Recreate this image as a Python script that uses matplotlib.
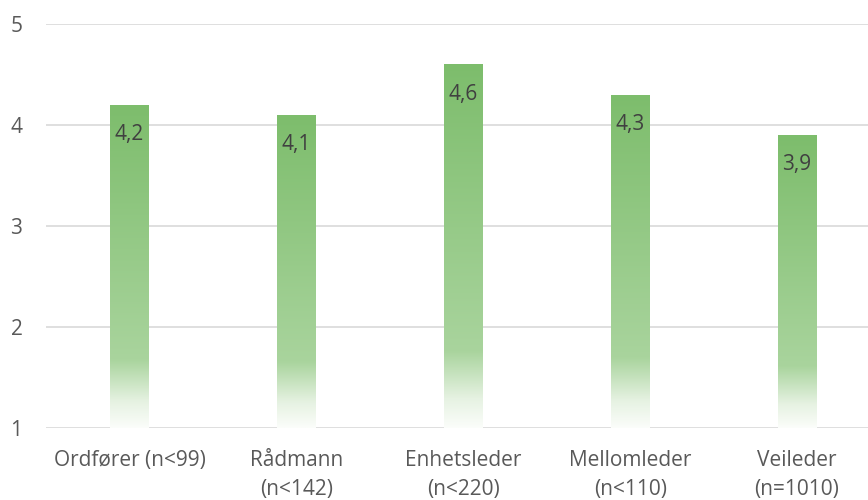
import numpy as np
import matplotlib.pyplot as plt
from matplotlib.colors import LinearSegmentedColormap

categories = ["Ordfører (n<99)", "Rådmann\n(n<142)", "Enhetsleder\n(n<220)",
              "Mellomleder\n(n<110)", "Veileder\n(n=1010)"]
values = [4.2, 4.1, 4.6, 4.3, 3.9]
value_labels = ["4,2", "4,1", "4,6", "4,3", "3,9"]
y_ticks = [1, 2, 3, 4, 5]

plt.rcParams["font.family"] = ["Open Sans", "DejaVu Sans"]

# gradient: white at the bottom, light green from ~20 %, darker green at the top
cmap = LinearSegmentedColormap.from_list(
    "bar_fade",
    [(0.0, "#fbfdfa"), (0.08, "#e6f2e2"), (0.21, "#a9d49d"), (1.0, "#7dbd6c")],
)

fig = plt.figure(figsize=(8.68, 5.0), dpi=100)
ax = fig.add_axes([46 / 868, 1 - 428 / 500, 1 - 46 / 868, (428 - 24) / 500])

x = np.arange(len(categories))
width = 0.228
ymin, ymax = 1, 5
bars = ax.bar(x, values, width=width, color="none", edgecolor="none", zorder=2)

grad = np.linspace(0, 1, 256).reshape(-1, 1)
for bar, val, lab in zip(bars, values, value_labels):
    x0 = bar.get_x()
    im = ax.imshow(grad, cmap=cmap, origin="lower", aspect="auto",
                   extent=[x0, x0 + bar.get_width(), ymin, val], zorder=2,
                   interpolation="bilinear")
    im.set_clip_path(bar)
    ax.annotate(lab, (bar.get_x() + bar.get_width() / 2, val),
                xytext=(0, -21.5), textcoords="offset points",
                ha="center", va="center", fontsize=15, color="#404040", zorder=3)

ax.set_xlim(-0.5, (868 - 45.5) / 167 - 0.5)
ax.set_ylim(ymin, ymax)
ax.set_yticks(y_ticks)
ax.set_yticklabels([str(t) for t in y_ticks])
ax.set_xticks(x)
ax.set_xticklabels(categories, linespacing=1.5)

for y in y_ticks:
    ax.axhline(y, color="#d9d9d9", linewidth=1.2, zorder=1)

for s in ax.spines.values():
    s.set_visible(False)
ax.tick_params(axis="y", length=0, pad=17, labelsize=15, labelcolor="#595959")
ax.tick_params(axis="x", length=0, pad=16, labelsize=15, labelcolor="#595959")

fig.savefig("out.png", dpi=100)
